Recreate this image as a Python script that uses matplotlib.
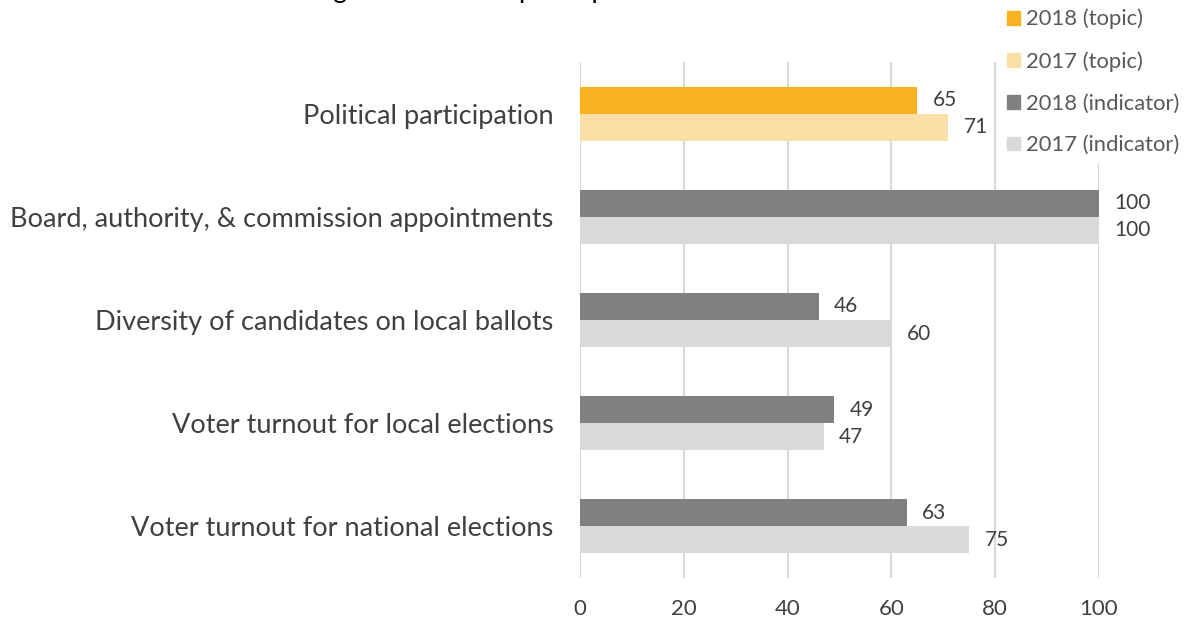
import numpy as np
import matplotlib.pyplot as plt
from matplotlib.patches import Patch

plt.rcParams['font.family'] = ['Lato', 'DejaVu Sans']

# data (top to bottom as shown)
categories = ['Political participation',
              'Board, authority, & commission appointments',
              'Diversity of candidates on local ballots',
              'Voter turnout for local elections',
              'Voter turnout for national elections']
values_2018 = [65, 100, 46, 49, 63]
values_2017 = [71, 100, 60, 47, 75]
x_ticks = [0, 20, 40, 60, 80, 100]
legend_labels = ['2018 (topic)', '2017 (topic)', '2018 (indicator)', '2017 (indicator)']

# colours: first category is the topic, the rest are indicators
c18_topic, c17_topic = '#F6B221', '#FAE0A6'
c18_ind, c17_ind = '#808080', '#D9D9D9'
text_col = '#404040'

fig = plt.figure(figsize=(11.9, 6.2), dpi=100)
ax = fig.add_axes([580 / 1190, 1 - 578 / 620, 519 / 1190, 516 / 620])

n = len(categories)
y = np.arange(n)
h = 0.262
cols18 = [c18_topic] + [c18_ind] * (n - 1)
cols17 = [c17_topic] + [c17_ind] * (n - 1)

ax.barh(y - h / 2, values_2018, height=h, color=cols18, zorder=3)
ax.barh(y + h / 2, values_2017, height=h, color=cols17, zorder=3)

for i in range(n):
    ax.annotate(str(values_2018[i]), (values_2018[i], y[i] - h / 2), xytext=(11, 0),
                textcoords='offset points', va='center', ha='left',
                fontsize=15, color=text_col)
    ax.annotate(str(values_2017[i]), (values_2017[i], y[i] + h / 2), xytext=(11, 0),
                textcoords='offset points', va='center', ha='left',
                fontsize=15, color=text_col)

ax.set_ylim(n - 0.5, -0.5)
ax.set_xlim(0, 100)
ax.set_yticks(y)
ax.set_yticklabels(categories, fontsize=19.5, color=text_col)
ax.set_xticks(x_ticks)
ax.set_xticklabels([str(t) for t in x_ticks], fontsize=16, color=text_col)
ax.tick_params(axis='y', length=0, pad=19)
ax.tick_params(axis='x', length=0, pad=15)
ax.grid(axis='x', color='#D9D9D9', linewidth=1.5, zorder=0)
for s in ax.spines.values():
    s.set_visible(False)
ax.set_facecolor('none')

# title, mostly cut off at the top (as in the source image)
fig.text(0.49, 1.004, 'Figure 8: Political participation indicator scores',
         ha='center', va='baseline', fontsize=19, color='black')

handles = [Patch(color=c) for c in [c18_topic, c17_topic, c18_ind, c17_ind]]
leg = fig.legend(handles, legend_labels, loc='upper left',
                 bbox_to_anchor=(989 / 1190, 1.014), frameon=True, fontsize=15.8,
                 handlelength=0.6, handleheight=0.6, handletextpad=0.3,
                 labelspacing=0.99, labelcolor='#595959', borderpad=0.3)
leg.get_frame().set_edgecolor('white')
leg.get_frame().set_facecolor('white')
leg.get_frame().set_alpha(1)
leg.set_zorder(5)

fig.savefig('out.png', dpi=100)
